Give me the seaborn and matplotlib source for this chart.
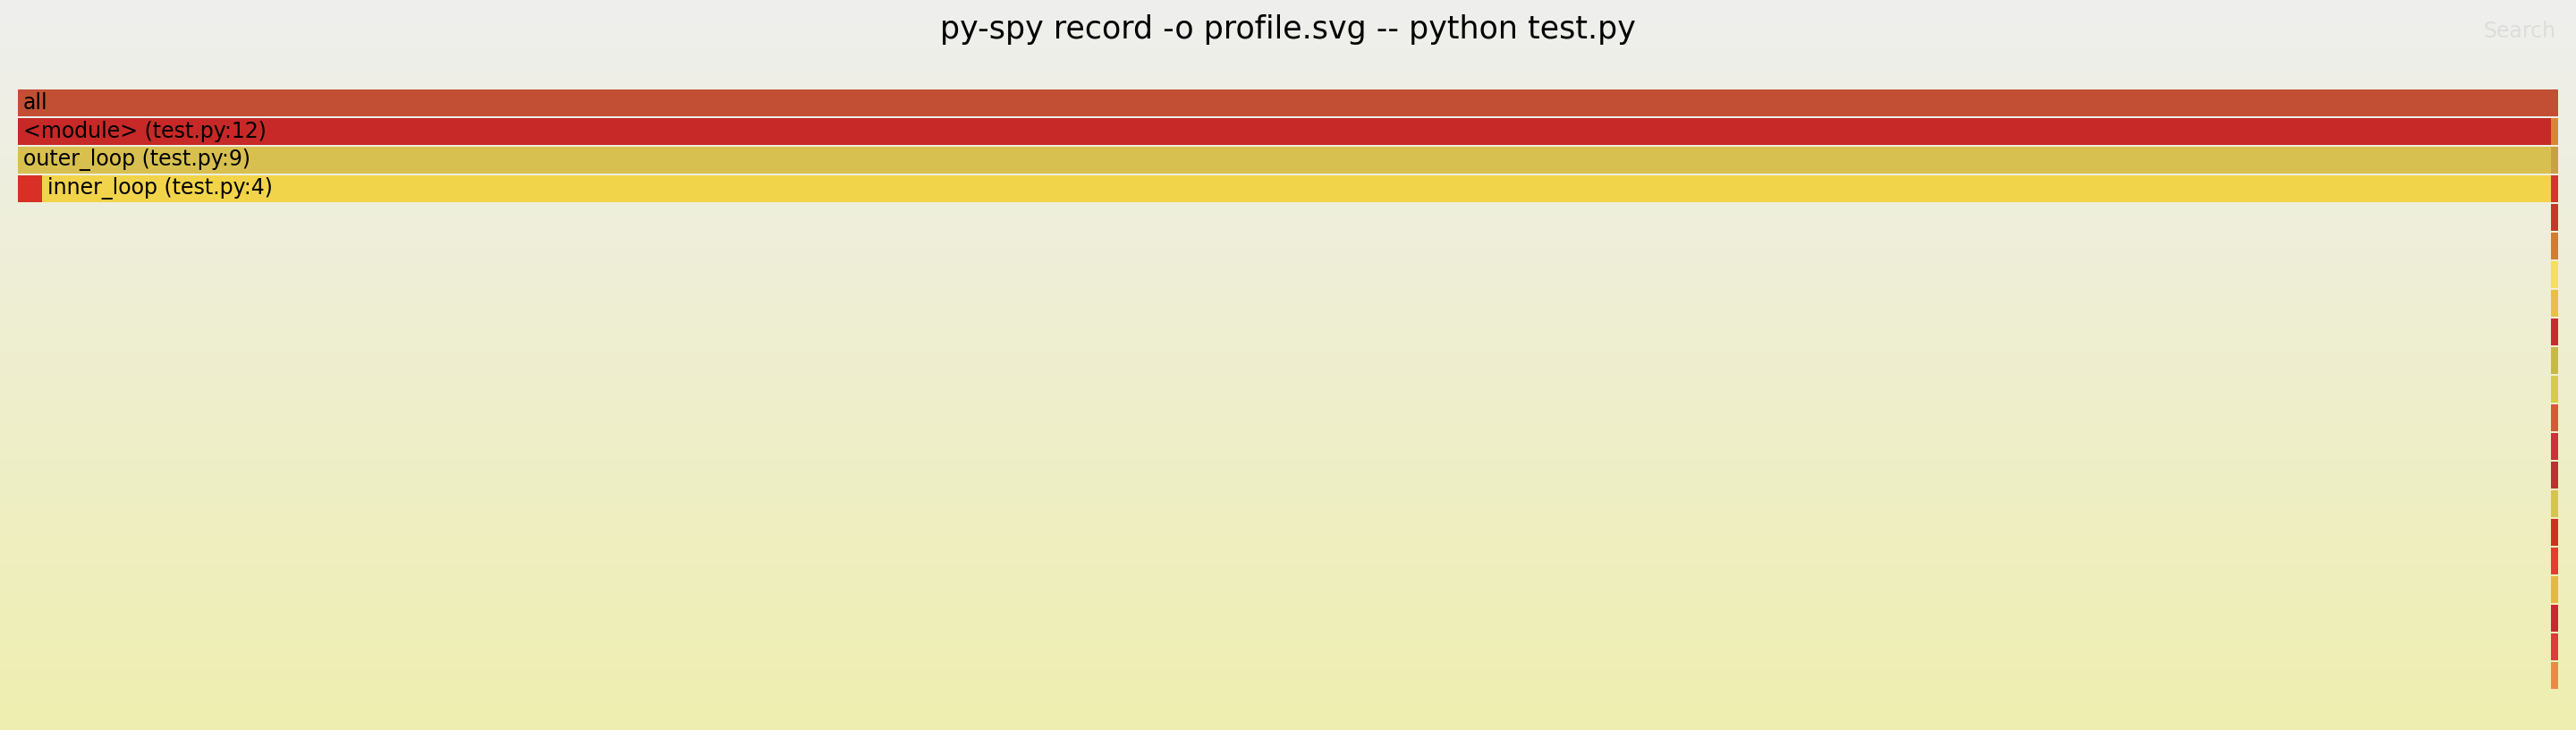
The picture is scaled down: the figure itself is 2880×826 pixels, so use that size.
import numpy as np
import pandas as pd
import seaborn as sns
import matplotlib.pyplot as plt
from matplotlib import transforms
from matplotlib.colors import LinearSegmentedColormap

sns.set_theme(style="white")
plt.rcParams["font.family"] = ["DejaVu Sans"]

title = "py-spy record -o profile.svg -- python test.py"

# frames of the flame graph (samples), one entry per box
names = ["all",
         "<module> (test.py:12)", "",
         "outer_loop (test.py:9)", "",
         "", "inner_loop (test.py:4)", ""] + [""] * 17
depths = [0, 1, 1, 2, 2, 3, 3, 3] + list(range(4, 21))
starts = [0, 0, 1062, 0, 1062, 0, 10, 1062] + [1062] * 17
widths = [1065, 1062, 3, 1062, 3, 10, 1052, 3] + [3] * 17
colors = ["#c24f33",
          "#c62927", "#dc8530",
          "#d8c050", "#c8a048",
          "#d83024", "#f2d44a", "#d8332f",
          "#c8372a", "#cf7c34", "#f4e05a", "#e8c048", "#c82c30", "#c8b848",
          "#d6cc48", "#d85838", "#d03038", "#c03030", "#d6c450", "#d03020",
          "#e83c30", "#e4b848", "#cc2830", "#e03a3a", "#e48c48"]

df = pd.DataFrame({"name": names, "depth": depths, "start": starts,
                   "width": widths, "color": colors})

W, H = 2880, 826
fig = plt.figure(figsize=(W / 100, H / 100), dpi=100, facecolor="white")

# gradient background (like the svg)
bg = fig.add_axes([0, 10 / H, 1, 816 / H])
cmap = LinearSegmentedColormap.from_list("bg", ["#eeeeee", "#eeeeb0"])
bg.imshow(np.linspace(0, 1, 256).reshape(-1, 1), aspect="auto", cmap=cmap,
          extent=[0, 1, 0, 1], origin="upper")
bg.set_axis_off()

n_rows = 21
top_px, pitch = 100, 32
ax = fig.add_axes([20 / W, 1 - (top_px + pitch * n_rows) / H,
                   2840 / W, pitch * n_rows / H])
ax.patch.set_alpha(0)
ax.barh(df["depth"], df["width"], left=df["start"], height=29.5 / pitch,
        align="edge", color=df["color"], linewidth=0)
ax.set_xlim(0, df["width"].max())
ax.set_ylim(n_rows, 0)
ax.set_axis_off()

px_per_sample = 2840 / df["width"].max()
pad = transforms.offset_copy(ax.transData, fig=fig, x=6, y=0, units="dots")
for _, r in df.iterrows():
    if r["name"] and r["width"] * px_per_sample > 40:
        ax.text(r["start"], r["depth"] + 14.75 / pitch, r["name"],
                transform=pad, va="center", ha="left", fontsize=17,
                color="black", clip_on=True)

fig.text(0.5, 1 - 33 / H, title, ha="center", va="center", fontsize=25.1,
         color="black")
fig.text(2858 / W, 1 - 35 / H, "Search", ha="right", va="center",
         fontsize=17, color="#dddddd")

fig.savefig("out.png", dpi=100, facecolor="white")
